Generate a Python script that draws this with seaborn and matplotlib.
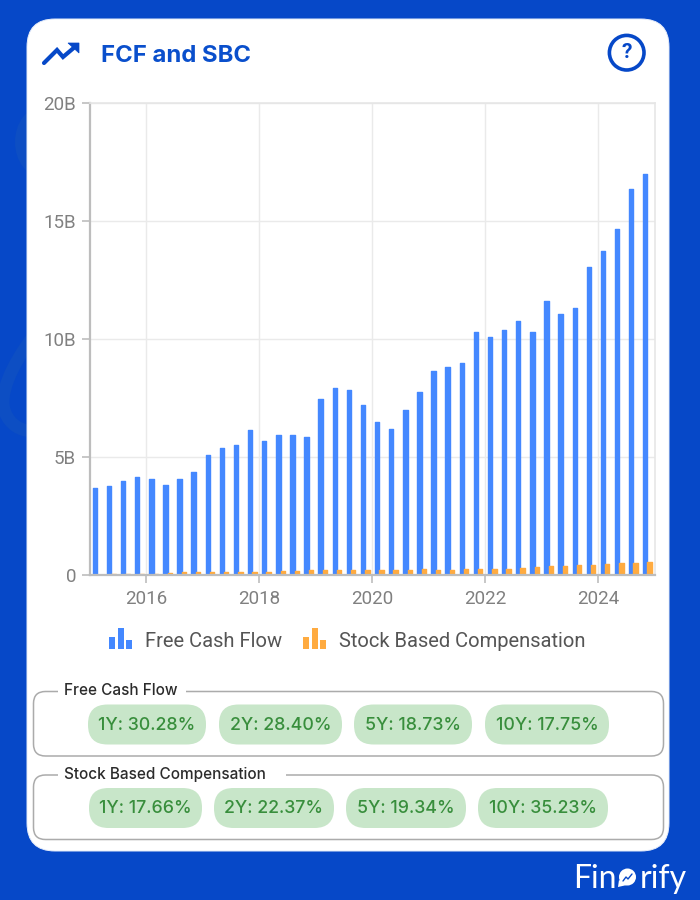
import pandas as pd
import matplotlib
matplotlib.use("Agg")
import matplotlib.pyplot as plt
import seaborn as sns
from matplotlib.patches import FancyBboxPatch, Circle, Ellipse, Polygon, PathPatch, Rectangle
from matplotlib.path import Path

# Datos (miles de millones, trimestres 2015-2024)
quarters = [f"{y} Q{q}" for y in range(2015, 2025) for q in range(1, 5)]
fcf = [3.69, 3.76, 3.98, 4.14, 4.08, 3.80, 4.07, 4.36, 5.10, 5.37,
       5.51, 6.13, 5.69, 5.95, 5.94, 5.85, 7.44, 7.92, 7.85, 7.19,
       6.50, 6.17, 6.98, 7.77, 8.64, 8.80, 8.97, 10.28, 10.07, 10.40,
       10.75, 10.30, 11.60, 11.07, 11.30, 13.04, 13.73, 14.65, 16.37, 16.99]
sbc = [0.0, 0.04, 0.05, 0.05, 0.06, 0.10, 0.11, 0.12, 0.12, 0.12,
       0.14, 0.14, 0.14, 0.16, 0.17, 0.20, 0.20, 0.20, 0.20, 0.20,
       0.20, 0.21, 0.21, 0.24, 0.21, 0.21, 0.24, 0.25, 0.24, 0.27,
       0.31, 0.34, 0.40, 0.40, 0.41, 0.44, 0.47, 0.49, 0.51, 0.54]
year_ticks = ["2016", "2018", "2020", "2022", "2024"]
y_ticks = [0, 5, 10, 15, 20]
y_labels = ["0", "5B", "10B", "15B", "20B"]
fcf_labels = ["1Y: 30.28%", "2Y: 28.40%", "5Y: 18.73%", "10Y: 17.75%"]
sbc_labels = ["1Y: 17.66%", "2Y: 22.37%", "5Y: 19.34%", "10Y: 35.23%"]

BG = "#0648C8"
BLUE = "#4488FF"
ORANGE = "#FFAB40"

sns.set_theme(style="white")
plt.rcParams["font.family"] = ["Roboto", "DejaVu Sans"]

df = pd.DataFrame({
    "quarter": quarters * 2,
    "value": fcf + sbc,
    "series": ["Free Cash Flow"] * 40 + ["Stock Based Compensation"] * 40,
})

fig = plt.figure(figsize=(7, 9), dpi=100, facecolor=BG)

# Capa de fondo en pixeles: tarjeta, iconos, pastillas
bg = fig.add_axes([0, 0, 1, 1], zorder=0)
bg.set_xlim(0, 700)
bg.set_ylim(900, 0)
bg.axis("off")


def rbox(ax, x0, y0, x1, y1, r, **kw):
    p = FancyBboxPatch((x0 + r, y0 + r), x1 - x0 - 2 * r, y1 - y0 - 2 * r,
                       boxstyle=f"round,pad={r},rounding_size={r}", **kw)
    ax.add_patch(p)


# manchas claras del fondo
bg.add_patch(Ellipse((42, 142), 54, 70, color="#0D4EC3", lw=0))
curve = Path([(32, 338), (12, 365), (-2, 395), (5, 412), (10, 425), (20, 430), (30, 431)],
             [Path.MOVETO] + [Path.CURVE4] * 6)
bg.add_patch(PathPatch(curve, fill=False, ec="#0D4EC3", lw=9))

rbox(bg, 27, 19, 669, 851, 28, fc="white", ec="#E6EDFA", lw=0.7)

# icono de tendencia
bg.plot([44, 57, 63, 76], [63, 50, 57, 46], color=BG, lw=3, solid_joinstyle="miter")
bg.add_patch(Polygon([(79, 43), (68, 43), (79, 53)], closed=True, fc=BG, ec=BG, lw=0.5))
bg.text(101, 54, "FCF and SBC", color="#0A4FCC", fontsize=17.2, fontweight="bold",
        family=["Inter", "DejaVu Sans"], va="center_baseline", ha="left")

# icono de ayuda
bg.add_patch(Circle((626.7, 52.7), 17.3, fc="none", ec=BG, lw=2.6))
bg.text(626.7, 52.5, "?", color=BG, fontsize=15, fontweight="bold",
        family=["Roboto", "DejaVu Sans"], va="center", ha="center")

# leyenda hecha a mano con tres barritas
for x0, color, label, tx in [(109, BLUE, "Free Cash Flow", 145),
                             (303, ORANGE, "Stock Based Compensation", 339)]:
    for dx, top in [(0, 637), (8.5, 628), (17, 640)]:
        bg.add_patch(Rectangle((x0 + dx, top), 6, 649 - top, fc=color, lw=0))
    bg.text(tx, 641.5, label, color="#555555", fontsize=14.5, va="center", ha="left")


# recuadros con titulo y pastillas
def fieldset(title, y0, y1, gap_end, labels, spans):
    rbox(bg, 33.5, y0, 663.5, y1, 12, fc="none", ec="#ABABAB", lw=1.1)
    bg.plot([58, gap_end], [y0, y0], color="white", lw=3, solid_capstyle="butt", zorder=3)
    bg.text(64, y0 - 1, title, color="#2B2B2B", fontsize=11, fontweight="medium",
            family=["Inter", "DejaVu Sans"], va="center", ha="left", zorder=4)
    for lab, (a, b) in zip(labels, spans):
        rbox(bg, a, y0 + 13, b, y0 + 53, 19.5, fc="#C8E6C9", ec="none")
        bg.text((a + b) / 2, y0 + 33.5, lab, color="#388E3C", fontsize=12.8,
                fontweight="medium", family=["Inter", "DejaVu Sans"],
                va="center", ha="center")


fieldset("Free Cash Flow", 691.5, 756, 186, fcf_labels,
         [(88, 206), (219, 342), (354, 472), (485, 609)])
fieldset("Stock Based Compensation", 775, 839.5, 286, sbc_labels,
         [(89, 202), (214, 334), (346, 466), (478, 608)])

# logo
bg.text(573, 888, "Fin", color="white", fontsize=23, family=["Lato", "DejaVu Sans"],
        va="baseline", ha="left")
bg.add_patch(Circle((627.5, 877), 8.5, fc="white", lw=0))
bg.add_patch(Polygon([(619, 880), (618, 887), (627, 885)], closed=True, fc="white", lw=0))
bg.plot([623, 626, 628, 632], [881, 877, 879, 874], color=BG, lw=1)
bg.text(639.5, 888, "rify", color="white", fontsize=23, family=["Lato", "DejaVu Sans"],
        va="baseline", ha="left")

# Grafico de barras
ax = fig.add_axes([90 / 700, 1 - 575 / 900, 564.5 / 700, 472 / 900], zorder=1)
ax.patch.set_alpha(0)
sns.barplot(data=df, x="quarter", y="value", hue="series", saturation=1,
            palette=[BLUE, ORANGE], width=0.62, gap=0, legend=False, ax=ax)
for bar in ax.patches:
    bar.set_edgecolor(bar.get_facecolor())
    bar.set_linewidth(1.0)
    bar.set_joinstyle("round")

ax.set_xlim(-0.5, 39.5)
ax.set_ylim(0, 20)
ax.set_xlabel("")
ax.set_ylabel("")
ax.set_xticks([3.5 + 8 * i for i in range(len(year_ticks))], year_ticks)
ax.set_yticks(y_ticks, y_labels)
ax.set_axisbelow(True)
ax.grid(True, color="#EAEAEA", lw=1.0)
ax.tick_params(axis="both", length=6, width=1.2, color="#BDBDBD",
               labelcolor="#808080", labelsize=13.5, pad=4, left=True, bottom=True)
ax.tick_params(axis="x", pad=5)
for side in ["left", "bottom"]:
    ax.spines[side].set_color("#BDBDBD")
    ax.spines[side].set_linewidth(1.6)
for side in ["top", "right"]:
    ax.spines[side].set_color("#E6E6E6")
    ax.spines[side].set_linewidth(1.2)
for side in ax.spines.values():
    side.set_visible(True)

fig.savefig("out.png", dpi=100, facecolor=BG)
